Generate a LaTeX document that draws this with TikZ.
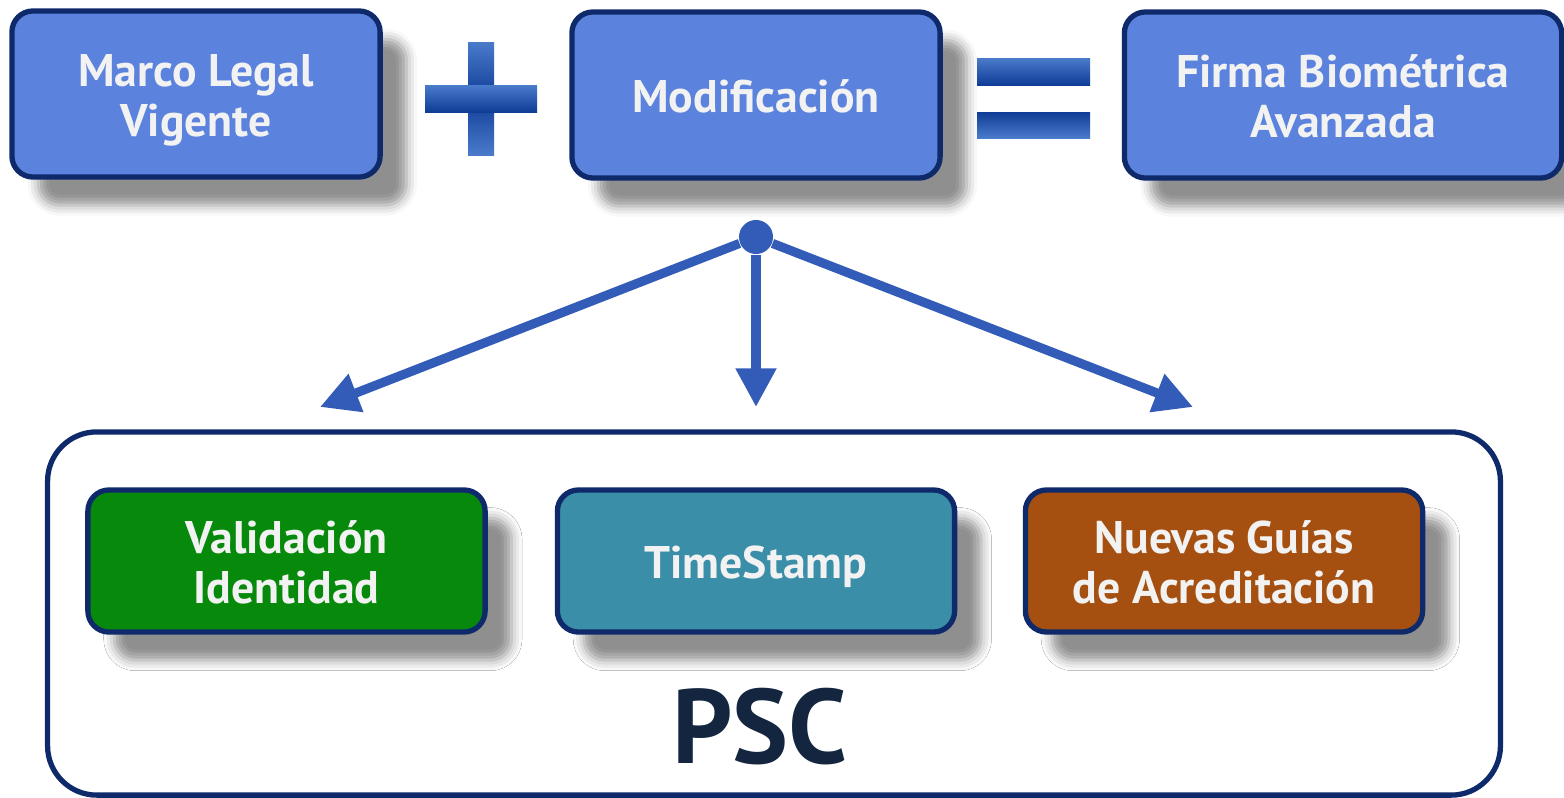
\documentclass[tikz,border=0pt]{standalone}
\usepackage{fontspec}
\setmainfont{PT Sans}
\usetikzlibrary{arrows.meta,shadows.blur}
\definecolor{boxblue}{HTML}{5B83DE}
\definecolor{boxline}{HTML}{0E2A6B}
\definecolor{arrowblue}{HTML}{335CB8}
\definecolor{signlight}{HTML}{4A7BCB}
\definecolor{signdark}{HTML}{0F3C96}
\definecolor{vgreen}{HTML}{078A0B}
\definecolor{vteal}{HTML}{3A8EA8}
\definecolor{vorange}{HTML}{A55010}
\definecolor{pscnavy}{HTML}{13253F}
\newcommand{\topstrut}{\rule{0pt}{13.5pt}}
\newcommand{\botstrut}{\rule[-3.5pt]{0pt}{3.5pt}}
\begin{document}
\begin{tikzpicture}[x=0.01cm,y=-0.01cm,
  box/.style={draw=boxline,line width=1.5pt,rounded corners=6pt,fill=boxblue,
    text=white!95!black,align=center,inner sep=0pt,
    font=\bfseries\fontsize{13}{14.4}\selectfont,
    blur shadow={shadow xshift=7.5pt,shadow yshift=-8pt,shadow blur radius=3pt,shadow opacity=44}},
  topbox/.style={box,minimum width=3.68cm,minimum height=1.66cm},
  pscbox/.style={box,minimum width=3.97cm,minimum height=1.42cm},
  arr/.style={draw=arrowblue,line width=2.6pt,-{Triangle[width=11pt,length=11pt]}}]
\useasboundingbox (0,0) rectangle (1564,797);

\node[draw=boxline,line width=1.5pt,rounded corners=14pt,fill=white,
  minimum width=14.52cm,minimum height=3.63cm] (psc) at (774,613.5) {};

\node[topbox] (marco) at (196,94) {\topstrut Marco Legal\\Vigente\botstrut};
\node[topbox] (modif) at (756,95) {\topstrut Modificación\botstrut};
\node[topbox,minimum width=4.37cm] (firma) at (1343,95) {\topstrut Firma Biométrica\\Avanzada\botstrut};

% signos
\fill[top color=signlight,bottom color=signlight,middle color=signdark] (468,42) rectangle (494,155);
\fill[top color=signlight,bottom color=signdark] (425,85) rectangle (537,112);
\fill[top color=signlight,bottom color=signdark] (977,58) rectangle (1090,85);
\fill[top color=signdark,bottom color=signlight] (977,112) rectangle (1090,138);

\node[circle,fill=arrowblue,inner sep=0pt,minimum size=0.34cm] (hub) at (756,237) {};
\coordinate (tipL) at (320,407);
\coordinate (tipM) at (756,407);
\coordinate (tipR) at (1193,407);
\draw[arr] (hub) -- (tipL);
\draw[arr] (hub) -- (tipM);
\draw[arr] (hub) -- (tipR);

\node[pscbox,fill=vgreen] (valid) at (286.5,561) {\topstrut Validación\\Identidad\botstrut};
\node[pscbox,fill=vteal] (stamp) at (756,561) {\topstrut TimeStamp\botstrut};
\node[pscbox,fill=vorange] (guias) at (1224,561) {\topstrut Nuevas Guías\\de Acreditación\botstrut};

\node[text=pscnavy,font=\bfseries\fontsize{30}{34}\selectfont] (psclabel) at (760,727) {PSC};
\end{tikzpicture}
\end{document}
